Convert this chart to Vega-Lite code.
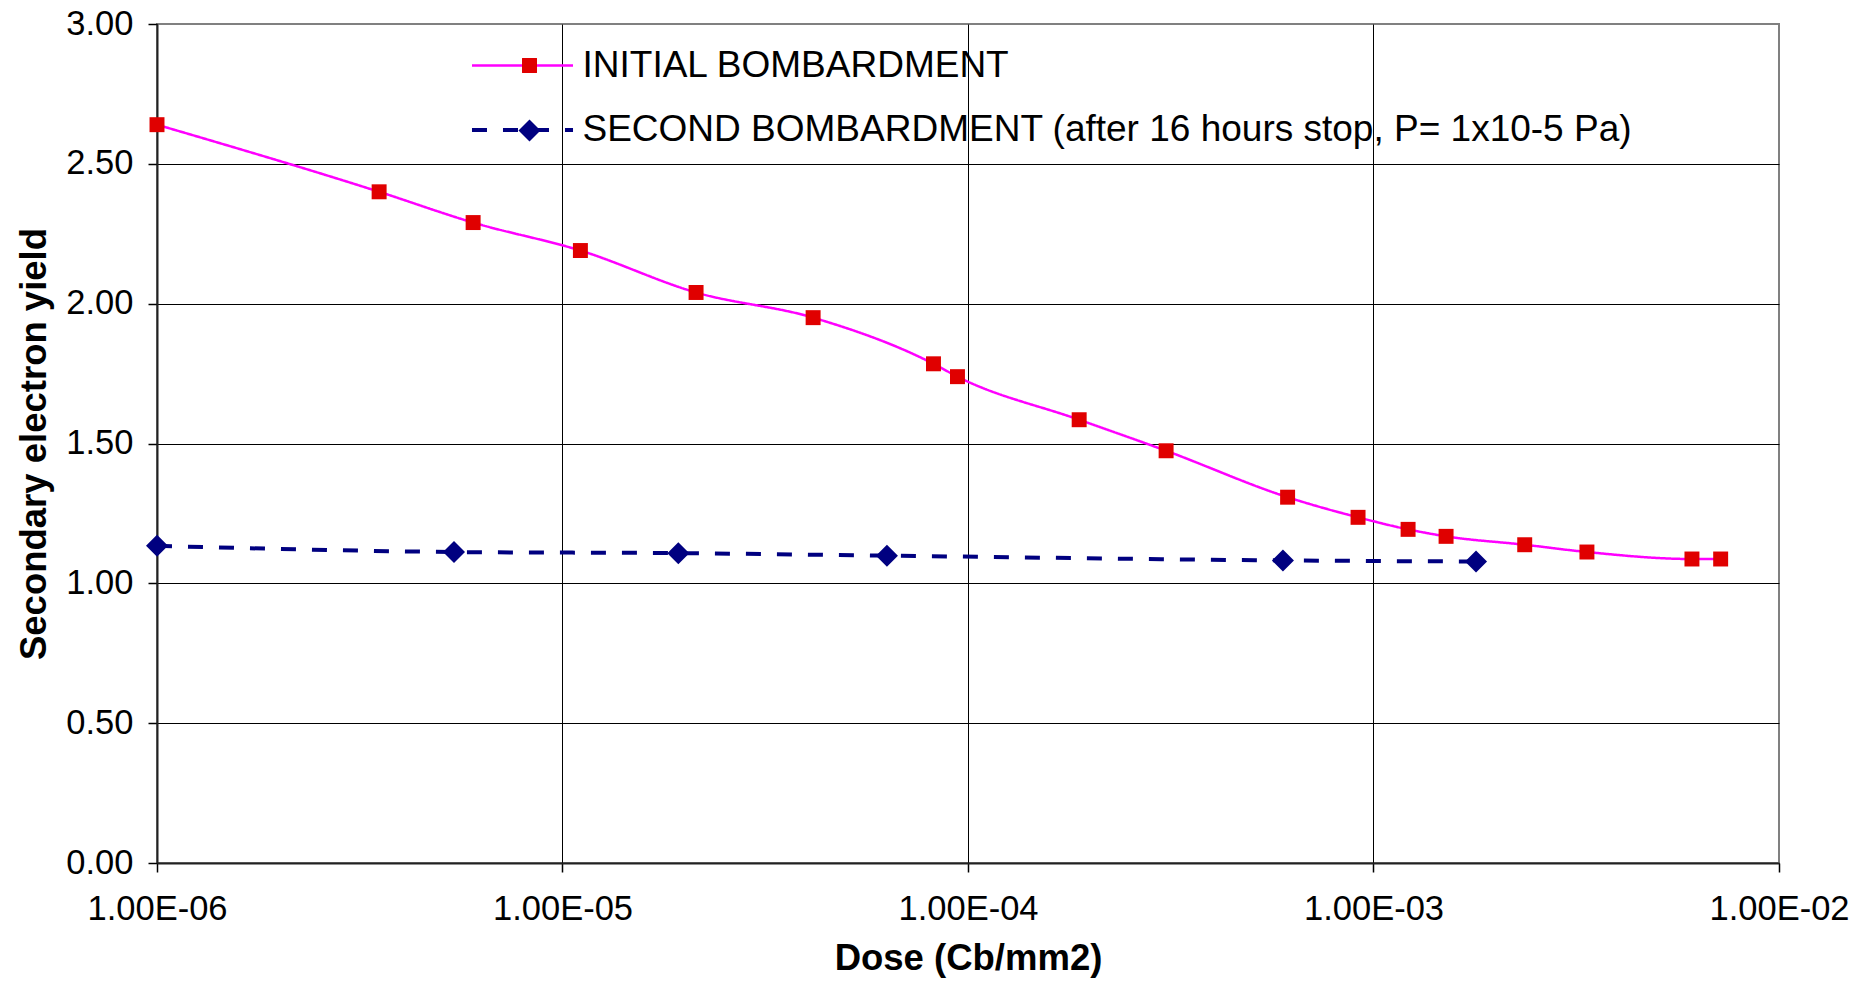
{
  "$schema": "https://vega.github.io/schema/vega-lite/v6.json",
  "width": 1622,
  "height": 839,
  "autosize": {"type": "none"},
  "padding": {"left": 157, "top": 24, "right": 91, "bottom": 120},
  "background": "white",
  "config": {
    "font": "Liberation Sans",
    "view": {"stroke": "#808080", "strokeWidth": 2},
    "axis": {"labelFont": "Liberation Sans", "titleFont": "Liberation Sans"},
    "legend": {"labelFont": "Liberation Sans"}
  },
  "data": {
    "values": [
      {"series": "INITIAL BOMBARDMENT", "dose": 1.0e-6, "sey": 2.64},
      {"series": "INITIAL BOMBARDMENT", "dose": 3.53e-6, "sey": 2.40},
      {"series": "INITIAL BOMBARDMENT", "dose": 6.02e-6, "sey": 2.29},
      {"series": "INITIAL BOMBARDMENT", "dose": 1.107e-5, "sey": 2.19},
      {"series": "INITIAL BOMBARDMENT", "dose": 2.135e-5, "sey": 2.04},
      {"series": "INITIAL BOMBARDMENT", "dose": 4.15e-5, "sey": 1.95},
      {"series": "INITIAL BOMBARDMENT", "dose": 8.22e-5, "sey": 1.785},
      {"series": "INITIAL BOMBARDMENT", "dose": 9.42e-5, "sey": 1.739},
      {"series": "INITIAL BOMBARDMENT", "dose": 1.88e-4, "sey": 1.585},
      {"series": "INITIAL BOMBARDMENT", "dose": 3.08e-4, "sey": 1.474},
      {"series": "INITIAL BOMBARDMENT", "dose": 6.14e-4, "sey": 1.308},
      {"series": "INITIAL BOMBARDMENT", "dose": 9.16e-4, "sey": 1.236},
      {"series": "INITIAL BOMBARDMENT", "dose": 1.217e-3, "sey": 1.193},
      {"series": "INITIAL BOMBARDMENT", "dose": 1.51e-3, "sey": 1.168},
      {"series": "INITIAL BOMBARDMENT", "dose": 2.36e-3, "sey": 1.138},
      {"series": "INITIAL BOMBARDMENT", "dose": 3.36e-3, "sey": 1.112},
      {"series": "INITIAL BOMBARDMENT", "dose": 6.10e-3, "sey": 1.087},
      {"series": "INITIAL BOMBARDMENT", "dose": 7.18e-3, "sey": 1.087},
      {"series": "SECOND BOMBARDMENT (after 16 hours stop, P= 1x10-5 Pa)", "dose": 1.0e-6, "sey": 1.134},
      {"series": "SECOND BOMBARDMENT (after 16 hours stop, P= 1x10-5 Pa)", "dose": 5.40e-6, "sey": 1.112},
      {"series": "SECOND BOMBARDMENT (after 16 hours stop, P= 1x10-5 Pa)", "dose": 1.93e-5, "sey": 1.108},
      {"series": "SECOND BOMBARDMENT (after 16 hours stop, P= 1x10-5 Pa)", "dose": 6.31e-5, "sey": 1.099},
      {"series": "SECOND BOMBARDMENT (after 16 hours stop, P= 1x10-5 Pa)", "dose": 5.98e-4, "sey": 1.082},
      {"series": "SECOND BOMBARDMENT (after 16 hours stop, P= 1x10-5 Pa)", "dose": 1.79e-3, "sey": 1.078}
    ]
  },
  "encoding": {
    "x": {
      "field": "dose", "type": "quantitative",
      "scale": {"type": "log", "domain": [1e-6, 1e-2], "nice": false},
      "axis": {
        "values": [1e-6, 1e-5, 1e-4, 1e-3, 1e-2],
        "labelExpr": "'1.00E-0' + round(-log(datum.value)/LN10)",
        "title": "Dose (Cb/mm2)",
        "titleFontSize": 36.5, "titleFontWeight": "bold", "titleColor": "black",
        "titlePadding": 14.5,
        "labelFontSize": 34.5, "labelColor": "black", "labelPadding": 20,
        "labelFlush": false, "labelOverlap": false,
        "tickSize": 9, "tickColor": "black", "tickWidth": 1.5,
        "domainColor": "#222222", "domainWidth": 2,
        "grid": true, "gridColor": "black", "gridWidth": 1,
        "gridOpacity": {"condition": {"test": "datum.value > 0.005", "value": 0}, "value": 1}
      }
    },
    "y": {
      "field": "sey", "type": "quantitative",
      "scale": {"domain": [0, 3], "nice": false, "zero": false},
      "axis": {
        "values": [0, 0.5, 1, 1.5, 2, 2.5, 3],
        "format": ".2f",
        "title": "Secondary electron yield",
        "titleFontSize": 36.5, "titleFontWeight": "bold", "titleColor": "black",
        "titlePadding": 12,
        "labelFontSize": 34.5, "labelColor": "black", "labelPadding": 15,
        "labelFlush": false, "labelOverlap": false,
        "tickSize": 9, "tickColor": "black", "tickWidth": 1.5,
        "domainColor": "#222222", "domainWidth": 2,
        "grid": true, "gridColor": "black", "gridWidth": 1,
        "gridOpacity": {"condition": {"test": "datum.value > 2.9", "value": 0}, "value": 1}
      }
    }
  },
  "layer": [
    {
      "mark": {"type": "line", "interpolate": "monotone"},
      "encoding": {
        "stroke": {
          "field": "series", "type": "nominal",
          "scale": {"domain": ["INITIAL BOMBARDMENT", "SECOND BOMBARDMENT (after 16 hours stop, P= 1x10-5 Pa)"], "range": ["#FF00FF", "#000080"]},
          "legend": {
            "orient": "none", "legendX": 346.5, "legendY": 23, "title": null,
            "padding": 0, "symbolType": "M-3,0H3", "symbolSize": 1134,
            "labelFontSize": 37, "labelColor": "black", "labelOffset": 41,
            "rowPadding": 27, "labelLimit": 1500
          }
        },
        "strokeDash": {
          "field": "series", "type": "nominal",
          "scale": {"domain": ["INITIAL BOMBARDMENT", "SECOND BOMBARDMENT (after 16 hours stop, P= 1x10-5 Pa)"], "range": [[1, 0], [15, 16]]}
        },
        "strokeWidth": {
          "field": "series", "type": "ordinal",
          "scale": {"domain": ["INITIAL BOMBARDMENT", "SECOND BOMBARDMENT (after 16 hours stop, P= 1x10-5 Pa)"], "range": [2.5, 4]}
        }
      }
    },
    {
      "mark": {"type": "point", "filled": true, "opacity": 1, "size": 484},
      "encoding": {
        "fill": {
          "field": "series", "type": "nominal",
          "scale": {"range": ["#E00000", "#000080"]},
          "legend": {
            "orient": "none", "legendX": 354, "legendY": 23, "title": null,
            "padding": 0, "symbolSize": 484, "symbolStrokeWidth": 0, "symbolOpacity": 1,
            "labelExpr": "''",
            "labelFontSize": 37, "labelColor": "transparent", "labelOffset": 41,
            "rowPadding": 27, "labelLimit": 1500
          }
        },
        "shape": {
          "field": "series", "type": "nominal",
          "scale": {"range": ["M-0.68,-0.68H0.68V0.68H-0.68Z", "M-1,0L0,-1L1,0L0,1Z"]}
        }
      }
    }
  ]
}
